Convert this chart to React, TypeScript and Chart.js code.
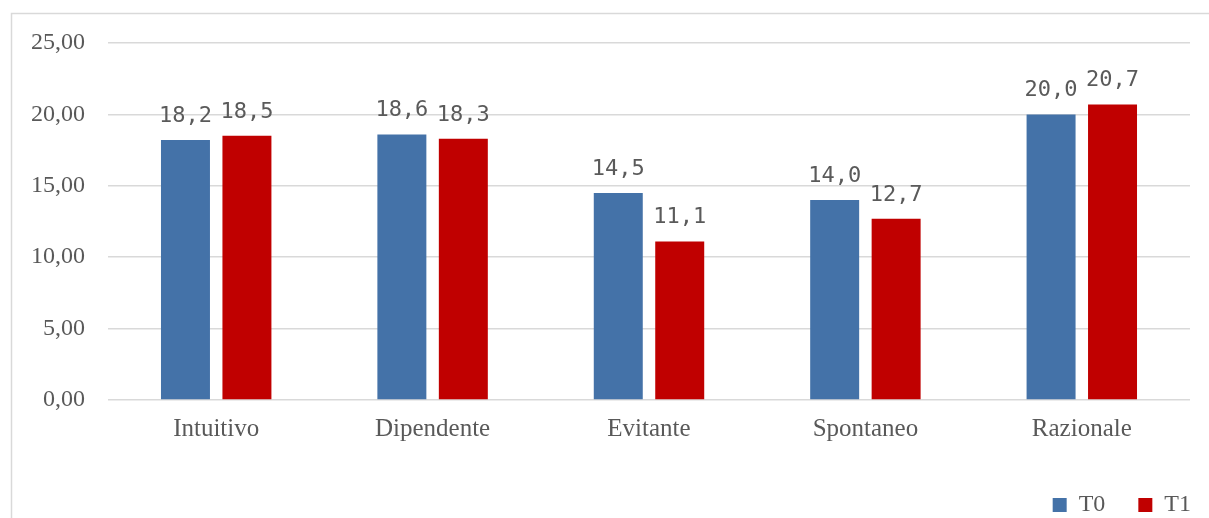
import React, { useEffect, useRef } from 'react';
import { Chart, registerables } from 'chart.js';

Chart.register(...registerables);

const categories = ['Intuitivo', 'Dipendente', 'Evitante', 'Spontaneo', 'Razionale'];
const seriesNames = ['T0', 'T1'];
const t0Values = [18.2, 18.6, 14.5, 14.0, 20.0];
const t1Values = [18.5, 18.3, 11.1, 12.7, 20.7];
const yMin = 0;
const yMax = 25;
const yStep = 5;
const seriesColors = ['#4472A8', '#C00000'];

const fmt = (v: number, d: number) => Number(v).toFixed(d).replace('.', ',');

const SERIF = '"Liberation Serif", "Times New Roman", serif';
const MONO = '"DejaVu Sans Mono", monospace';

const framePlugin = {
  id: 'frame',
  beforeDraw(chart: any) {
    const ctx = chart.ctx;
    ctx.save();
    ctx.strokeStyle = '#d9d9d9';
    ctx.lineWidth = 1.5;
    ctx.beginPath();
    ctx.moveTo(11.5, chart.height);
    ctx.lineTo(11.5, 13.5);
    ctx.lineTo(chart.width, 13.5);
    ctx.stroke();
    ctx.restore();
  },
};

const legendShiftPlugin = {
  id: 'legendShift',
  afterLayout(chart: any) {
    if (chart.legend) {
      chart.legend.left += 34;
      chart.legend.right += 34;
    }
  },
};

const valueLabelPlugin = {
  id: 'valueLabels',
  afterDatasetsDraw(chart: any) {
    const ctx = chart.ctx;
    ctx.save();
    ctx.font = `22px ${MONO}`;
    ctx.fillStyle = '#5a5a5a';
    ctx.textAlign = 'center';
    ctx.textBaseline = 'alphabetic';
    chart.data.datasets.forEach((ds: any, i: number) => {
      const meta = chart.getDatasetMeta(i);
      meta.data.forEach((el: any, j: number) => {
        ctx.fillText(fmt(ds.data[j], 1), el.x, el.y - 18);
      });
    });
    ctx.restore();
  },
};

export default function App() {
  const ref = useRef<HTMLCanvasElement>(null);

  useEffect(() => {
    if (!ref.current) return;
    const chart = new Chart(ref.current, {
      type: 'bar',
      data: {
        labels: categories,
        datasets: [
          {
            label: seriesNames[0],
            data: t0Values,
            backgroundColor: seriesColors[0],
            borderWidth: 0,
            categoryPercentage: 0.568,
            barPercentage: 0.797,
          },
          {
            label: seriesNames[1],
            data: t1Values,
            backgroundColor: seriesColors[1],
            borderWidth: 0,
            categoryPercentage: 0.568,
            barPercentage: 0.797,
          },
        ],
      },
      options: {
        responsive: false,
        animation: false,
        devicePixelRatio: 1,
        layout: { padding: { top: 43, right: 19, bottom: 3, left: 0 } },
        plugins: {
          legend: {
            position: 'bottom',
            align: 'end',
            labels: {
              boxWidth: 14,
              boxHeight: 14,
              padding: 33,
              color: '#595959',
              font: { family: SERIF, size: 24 },
            },
          },
          tooltip: { enabled: false },
        },
        scales: {
          x: {
            grid: { display: false, drawTicks: false },
            border: { display: false },
            ticks: {
              color: '#595959',
              font: { family: SERIF, size: 25 },
              padding: 14,
            },
            afterFit: (scale: any) => {
              scale.height = 60;
            },
          },
          y: {
            min: yMin,
            max: yMax,
            ticks: {
              stepSize: yStep,
              padding: 23,
              color: '#595959',
              font: { family: SERIF, size: 24 },
              callback: (v: any) => fmt(v, 2),
            },
            grid: { color: '#d9d9d9', lineWidth: 1.5, drawTicks: false },
            border: { display: false },
            afterFit: (scale: any) => {
              scale.width = 108;
            },
          },
        },
      },
      plugins: [framePlugin, legendShiftPlugin, valueLabelPlugin],
    } as any);
    return () => chart.destroy();
  }, []);

  return (
    <div
      style={{
        position: 'absolute',
        left: 0,
        top: 0,
        width: 1209,
        height: 518,
        overflow: 'hidden',
        background: '#fff',
      }}
    >
      <canvas ref={ref} width={1209} height={530} style={{ display: 'block' }} />
    </div>
  );
}
